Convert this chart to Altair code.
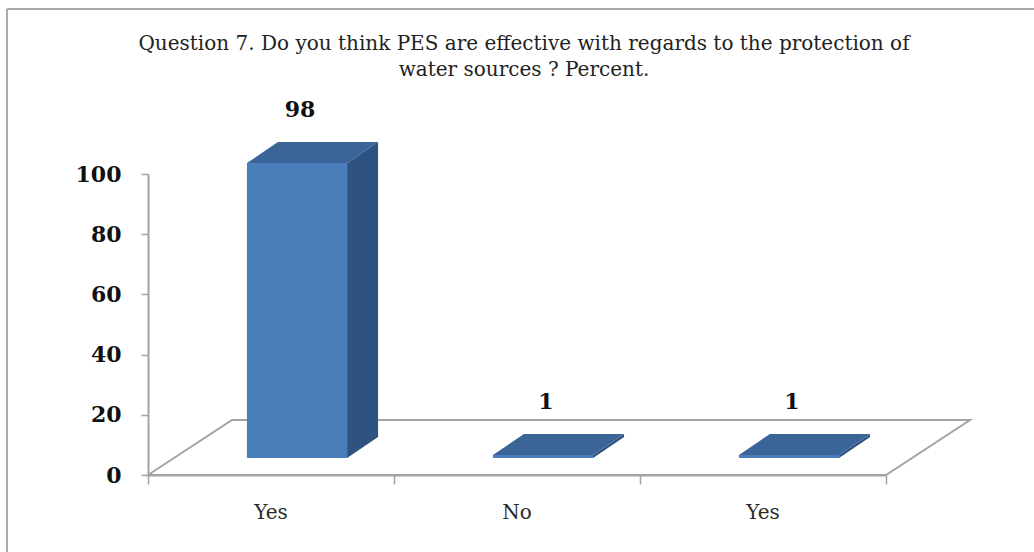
import altair as alt
import pandas as pd

# ---- data ----
CATEGORIES = ["Yes", "No", "Yes"]
VALUES = [98, 1, 1]
Y_TICKS = [0, 20, 40, 60, 80, 100]
TITLE_LINES = [
    "Question 7. Do you think PES are effective with regards to the protection of",
    "water sources ? Percent.",
]

# ---- layout / style constants ----
W, H = 738, 301                 # plot area (front plane of the 3D box)
LEFT, TOP = 148, 174
X_MAX = len(CATEGORIES)
Y_MAX = 100
UX = X_MAX / W                  # data units per pixel
UY = Y_MAX / H

BAR_W = 0.407                   # bar width as a fraction of a category band
FRONT_DX, FRONT_DY = 26, 17     # pixel depth of the bar's front face
SIDE_DX, SIDE_DY = 31, 21       # pixel depth of the bar itself
FLOOR_DX, FLOOR_DY = 84, 55     # pixel depth of the floor

C_FRONT = "#4a7ebb"
C_SIDE = "#2f5380"
C_TOP = "#3b6598"
C_GRID = "#a3a3a3"
SERIF = "DejaVu Serif"

# ---- tables built from the arrays ----
bars = pd.DataFrame({"idx": list(range(len(CATEGORIES))), "cat": CATEGORIES, "value": VALUES})
bars["center"] = bars["idx"] + 0.5
bars["x1"] = bars["center"] - BAR_W / 2
bars["x2"] = bars["center"] + BAR_W / 2
bars["zero"] = 0

side_rows, top_rows = [], []
for _, r in bars.iterrows():
    for d in (0, 1):
        side_rows.append({"idx": r.idx, "d": d,
                          "sx": r.x2 + d * SIDE_DX * UX,
                          "sy": r.value + d * SIDE_DY * UY,
                          "sy2": d * SIDE_DY * UY})
        top_rows.append({"idx": r.idx, "d": d,
                         "ty": r.value + d * SIDE_DY * UY,
                         "tx": r.x1 + d * SIDE_DX * UX,
                         "tx2": r.x2 + d * SIDE_DX * UX})
side = pd.DataFrame(side_rows)
top = pd.DataFrame(top_rows)

floor = pd.DataFrame({
    "o": [0, 1, 2, 3, 4],
    "fx": [0, X_MAX, X_MAX + FLOOR_DX * UX, FLOOR_DX * UX, 0],
    "fy": [0, 0, FLOOR_DY * UY, FLOOR_DY * UY, 0],
})

xs = alt.Scale(domain=[0, X_MAX], nice=False, zero=False)
ys = alt.Scale(domain=[0, Y_MAX], nice=False, zero=True)

x_axis = alt.Axis(values=list(range(X_MAX + 1)), labels=False, title=None, grid=False,
                  tickSize=9, tickColor=C_GRID, tickWidth=1.5,
                  domainColor=C_GRID, domainWidth=2)
y_axis = alt.Axis(values=Y_TICKS, title=None, grid=False, tickSize=7,
                  tickColor=C_GRID, tickWidth=1.5, domainColor=C_GRID, domainWidth=2,
                  labelFont=SERIF, labelFontWeight="bold", labelFontSize=22,
                  labelColor="#111111", labelPadding=20)


def X(field, **kw):
    return alt.X(field, type="quantitative", scale=xs, axis=x_axis, **kw)


def Y(field, **kw):
    return alt.Y(field, type="quantitative", scale=ys, axis=y_axis, **kw)


floor_layer = alt.Chart(floor).mark_line(color=C_GRID, strokeWidth=2).encode(
    x=X("fx"), y=Y("fy"), order="o:Q")

side_layer = alt.Chart(side).mark_area(
    orient="vertical", color=C_SIDE, xOffset=FRONT_DX, yOffset=-FRONT_DY,
    y2Offset=-FRONT_DY
).encode(x=X("sx"), y=Y("sy"), y2="sy2", detail="idx:N")

top_layer = alt.Chart(top).mark_area(
    orient="horizontal", color=C_TOP, xOffset=FRONT_DX, x2Offset=FRONT_DX,
    yOffset=-FRONT_DY
).encode(y=Y("ty"), x=X("tx"), x2="tx2", detail="idx:N")

front_layer = alt.Chart(bars).mark_rect(
    color=C_FRONT, xOffset=FRONT_DX, x2Offset=FRONT_DX,
    yOffset=-FRONT_DY, y2Offset=-FRONT_DY
).encode(x=X("x1"), x2="x2", y=Y("value"), y2="zero:Q")

value_labels = alt.Chart(bars).mark_text(
    font=SERIF, fontWeight="bold", fontSize=22, color="#111111",
    dx=29, dy=-70, baseline="middle"
).encode(x=X("center"), y=Y("value"), text="value:Q")

cat_labels = alt.Chart(bars).mark_text(
    font=SERIF, fontSize=20, color="#2a2a2a", dy=38, baseline="middle"
).encode(x=X("center"), y=Y("zero"), text="cat:N")

title_layer = alt.Chart(pd.DataFrame({"t": ["\n".join(TITLE_LINES)]})).mark_text(
    font=SERIF, fontSize=20, color="#222222", baseline="alphabetic",
    align="center", lineBreak="\n", lineHeight=26
).encode(x=alt.value(W / 2 + 7), y=alt.value(50 - TOP), text="t:N")

frame_df = pd.DataFrame({"k": [0]})
frame_left = alt.Chart(frame_df).mark_rule(color="#aaaaaa", strokeWidth=2).encode(
    x=alt.value(7 - LEFT), y=alt.value(9 - TOP), y2=alt.value(560 - TOP))
frame_top = alt.Chart(frame_df).mark_rule(color="#aaaaaa", strokeWidth=2).encode(
    x=alt.value(7 - LEFT), x2=alt.value(1040 - LEFT), y=alt.value(9 - TOP))

chart = alt.layer(
    floor_layer, side_layer, top_layer, front_layer,
    value_labels, cat_labels, title_layer, frame_left, frame_top
).properties(
    width=W, height=H,
    padding={"left": LEFT, "top": TOP, "right": 1034 - LEFT - W, "bottom": 552 - TOP - H},
    autosize=alt.AutoSizeParams(type="none"),
    background="white",
).configure_view(stroke=None)

chart.save("out.html", embed_options={"renderer": "svg", "actions": False})
